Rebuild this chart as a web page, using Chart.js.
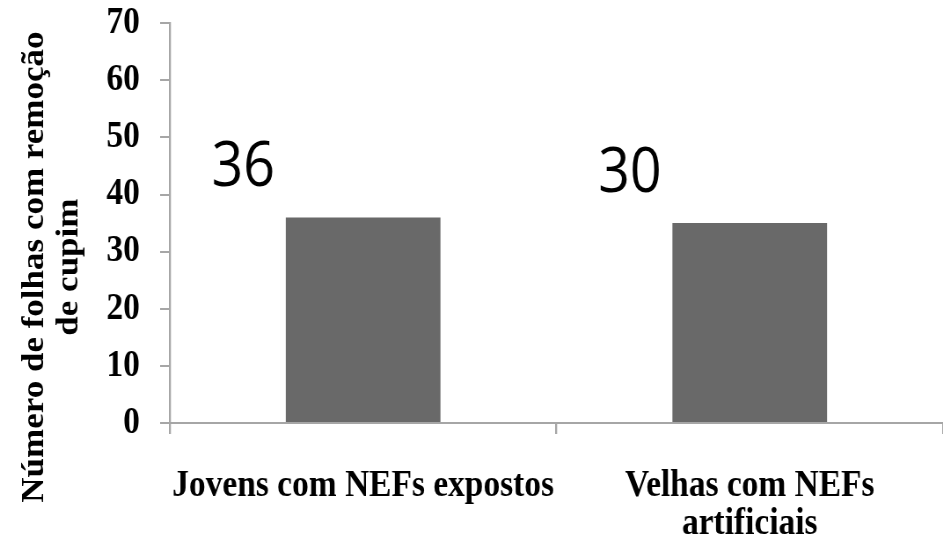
<!DOCTYPE html>
<html>
<head>
    <title>Folhas com remoção de cupim</title>
    <script src="https://cdn.jsdelivr.net/npm/chart.js"></script>
    <style>
        html, body { margin: 0; padding: 0; background: #fff; overflow: hidden; }
        /* the original figure is squeezed sideways, so draw wide and scale x down */
        .container { width: 1072px; height: 541px; transform: scaleX(0.8797); transform-origin: 0 0; }
    </style>
</head>
<body>
    <div class="container">
        <canvas id="cupimChart" width="1072" height="541"></canvas>
    </div>
    <script>
        // data
        const categories = [['Jovens com NEFs expostos'], ['Velhas com NEFs', 'artificiais']];
        const leafCounts = [36, 35];
        const noteLabels = ['36', '30'];
        const yTitleLines = ['Número de folhas com remoção', 'de cupim'];

        const serif = '"Liberation Serif", "Times New Roman", serif';
        const axisColor = '#a6a6a6';

        // big numbers written above the bars, plus the two-line rotated y title
        const annotations = {
            id: 'annotations',
            afterDatasetsDraw(chart) {
                const ctx = chart.ctx;
                const x = chart.scales.x, y = chart.scales.y;
                const catWidth = x.getPixelForValue(1) - x.getPixelForValue(0);
                ctx.save();
                ctx.fillStyle = '#000';
                ctx.font = '63px "Open Sans", sans-serif';
                ctx.textAlign = 'center';
                ctx.textBaseline = 'middle';
                noteLabels.forEach((txt, i) => {
                    const px = x.getPixelForValue(i) - catWidth * 0.31;
                    const py = y.getPixelForValue(leafCounts[i]) - 49;
                    ctx.fillText(txt, px, py);
                });
                ctx.restore();

                ctx.save();
                ctx.fillStyle = '#000';
                ctx.font = 'bold 35px ' + serif;
                ctx.textAlign = 'center';
                ctx.textBaseline = 'alphabetic';
                const area = chart.chartArea;
                const cy = (area.top + area.bottom) / 2 + 44;
                yTitleLines.forEach((line, i) => {
                    ctx.save();
                    ctx.translate(49 + i * 39, cy);
                    ctx.rotate(-Math.PI / 2);
                    ctx.fillText(line, 0, 0);
                    ctx.restore();
                });
                ctx.restore();
            }
        };

        const ctx = document.getElementById('cupimChart').getContext('2d');
        const cupimChart = new Chart(ctx, {
            type: 'bar',
            data: {
                labels: categories,
                datasets: [{
                    data: leafCounts,
                    backgroundColor: '#696969',
                    borderWidth: 0,
                    categoryPercentage: 0.4,
                    barPercentage: 1.0
                }]
            },
            options: {
                responsive: false,
                animation: false,
                layout: { padding: { left: 98, top: 0, right: -8, bottom: -35 } },
                plugins: {
                    legend: { display: false },
                    tooltip: { enabled: false }
                },
                scales: {
                    x: {
                        grid: {
                            offset: true,
                            drawOnChartArea: false,
                            tickLength: 11,
                            color: axisColor,
                            lineWidth: 2.3
                        },
                        border: { color: axisColor, width: 2 },
                        ticks: {
                            color: '#000',
                            padding: 33,
                            autoSkip: false,
                            maxRotation: 0,
                            font: { family: serif, size: 38, weight: 'bold', lineHeight: 1.0 }
                        }
                    },
                    y: {
                        min: 0,
                        max: 70,
                        ticks: {
                            stepSize: 10,
                            color: '#000',
                            padding: 23,
                            font: { family: serif, size: 38, weight: 'bold', lineHeight: 0.01 }
                        },
                        grid: {
                            drawOnChartArea: false,
                            tickLength: 11,
                            color: axisColor,
                            lineWidth: 2
                        },
                        border: { color: axisColor, width: 2.3 }
                    }
                }
            },
            plugins: [annotations]
        });
    </script>
</body>
</html>
